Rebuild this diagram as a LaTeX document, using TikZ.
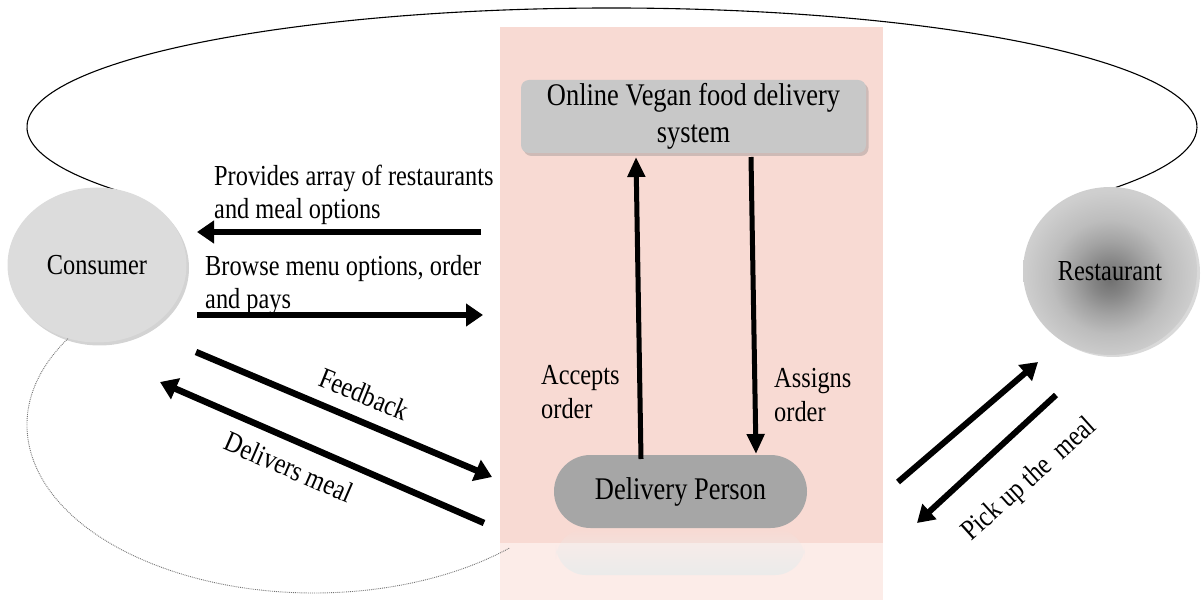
\documentclass[tikz,border=0pt]{standalone}
\usepackage{fontspec}
\setmainfont{Liberation Serif}[FakeStretch=0.84]
\usetikzlibrary{shapes.geometric,shapes.misc,arrows.meta,shadows,fadings}
\definecolor{pinkbg}{RGB}{248,218,211}
\definecolor{pinklight}{RGB}{252,236,232}
\definecolor{consfill}{RGB}{220,220,220}
\definecolor{sysfill}{RGB}{200,200,200}
\definecolor{dpfill}{RGB}{166,166,166}
\pgfdeclareradialshading{restshade}{\pgfpoint{0bp}{-2.6bp}}{%
  color(0bp)=(black!56); color(5bp)=(black!48); color(11bp)=(black!36); color(17bp)=(black!26); color(25bp)=(black!19); color(50bp)=(black!19)}
\tikzset{
  lbl/.style={font=\fontsize{29}{33.6}\selectfont, align=left, inner sep=0pt},
  boxtxt/.style={font=\fontsize{31.5}{36.6}\selectfont, align=center},
  bigarrow/.style={line width=6.5pt, -{Triangle[length=17pt,width=22pt]}},
  vertarrow/.style={line width=5pt, -{Triangle[length=20pt,width=17pt]}},
  diagarrow/.style={line width=6pt, -{Triangle[length=17pt,width=20pt]}},
  softshadow/.style={drop shadow={opacity=0.35, shadow xshift=2.5pt, shadow yshift=-3pt}},
}
\begin{document}
\begin{tikzpicture}[x=1pt,y=1pt]
\useasboundingbox (0,0) rectangle (1201,600);
% background panel
\fill[pinkbg] (500,57) rectangle (883,573);
\fill[pinklight] (500,0) rectangle (883,57);
% faint reflection of delivery person
\fill[black!8, path fading=north, rounded corners=30pt] (556,25) rectangle (805,71);
% big top loop
\draw[line width=1.1pt] (612,473) ++(215:585 and 119) arc[start angle=215, end angle=-31.5, x radius=585, y radius=119];
% lower dotted loop
\draw[black!55, line width=0.9pt, densely dotted] (314,175) ++(148:287 and 168) arc[start angle=148, end angle=313, x radius=287, y radius=168];
% actors
\node[ellipse, fill=consfill, minimum width=179pt, minimum height=155pt, inner sep=0pt, softshadow,
  font=\fontsize{29}{33.6}\selectfont] (consumer) at (97,335) {Consumer};
\node[ellipse, shading=restshade, minimum width=174pt, minimum height=168pt, inner sep=0pt,
  drop shadow={opacity=0.3, shadow xshift=3pt, shadow yshift=-2pt},
  font=\fontsize{29}{33.6}\selectfont] (restaurant) at (1110,329) {Restaurant};
\node[rectangle, rounded corners=8pt, fill=sysfill, minimum width=345pt, minimum height=73pt, inner sep=0pt,
  softshadow, boxtxt] (sys) at (693.5,483.5) {Online Vegan food delivery\\system};
\node[rounded rectangle, fill=dpfill, minimum width=253pt, minimum height=73pt, inner sep=0pt,
  boxtxt] (dp) at (680.5,108.5) {Delivery Person};
% labels
\node[lbl, anchor=west] (lprov) at (214,405) {Provides array of restaurants\\and meal options};
\node[lbl, anchor=west] (lbrow) at (205,315) {Browse menu options, order\\and pays};
\node[lbl, rotate=-22] (lfeed) at (364,206) {Feedback};
\node[lbl, rotate=-23.5] (ldel) at (289,133) {Delivers meal};
\node[lbl, anchor=west] (lacc) at (541,208) {Accepts\\order};
\node[lbl, anchor=west] (lass) at (774,205) {Assigns\\order};
\node[lbl, rotate=42] (lpick) at (1030,120) {Pick up the\ \ meal};
% arrow end points
\coordinate (p1) at (481,368); \coordinate (p2) at (197,368);
\coordinate (b1) at (197,285); \coordinate (b2) at (483,285);
\coordinate (f1) at (196,248); \coordinate (f2) at (492,123);
\coordinate (d1) at (484,77);  \coordinate (d2) at (160,218);
\coordinate (a1) at (641,141); \coordinate (a2) at (636,443);
\coordinate (s1) at (751,443); \coordinate (s2) at (756,146);
\coordinate (r1) at (898,118); \coordinate (r2) at (1038,238);
\coordinate (q1) at (1056,205); \coordinate (q2) at (917,77);
% arrows
\draw[bigarrow] (p1) -- (p2);
\draw[bigarrow] (b1) -- (b2);
\draw[bigarrow] (f1) -- (f2);
\draw[bigarrow] (d1) -- (d2);
\draw[vertarrow] (a1) -- (a2);
\draw[vertarrow] (s1) -- (s2);
\draw[diagarrow] (r1) -- (r2);
\draw[diagarrow] (q1) -- (q2);
\end{tikzpicture}
\end{document}
